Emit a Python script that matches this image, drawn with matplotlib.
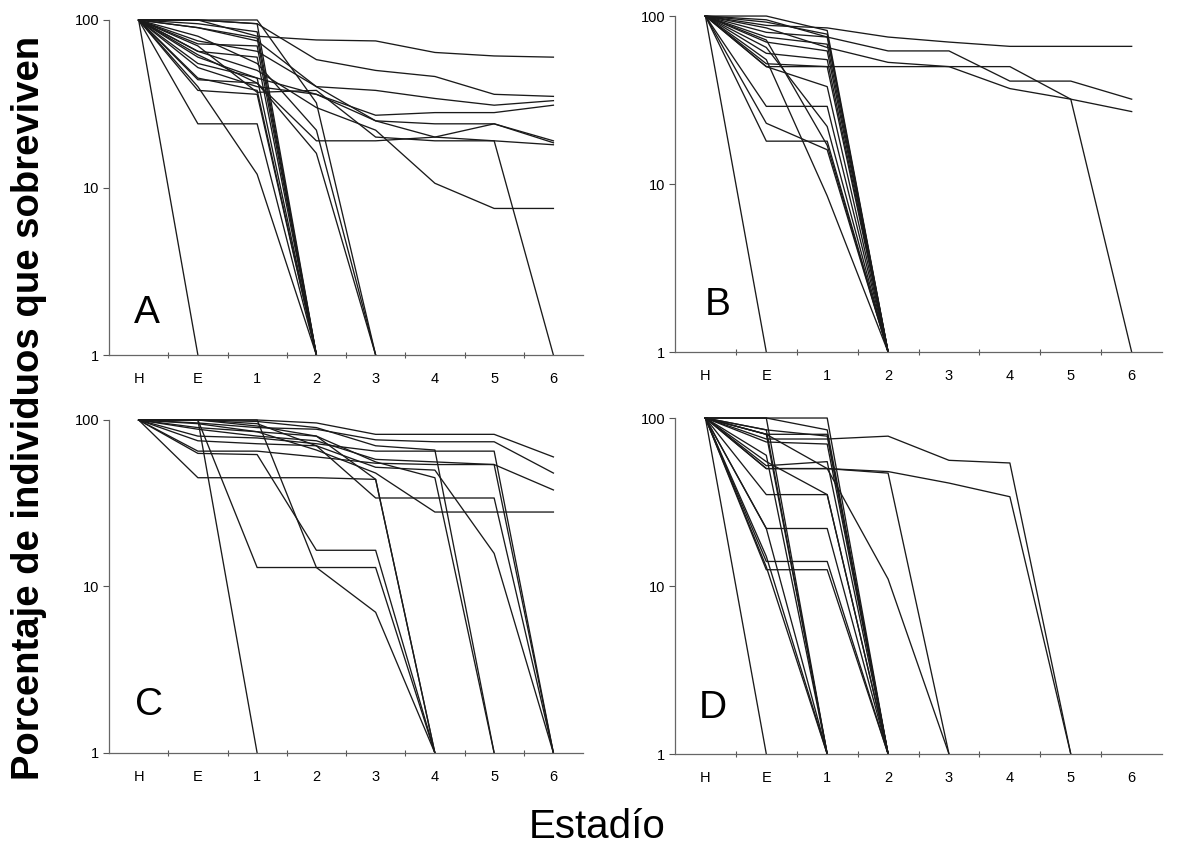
import numpy as np
import matplotlib
matplotlib.use("Agg")
import matplotlib.pyplot as plt
from matplotlib.ticker import FixedLocator, NullLocator, FixedFormatter

plt.rcParams['font.family'] = ['Liberation Sans', 'DejaVu Sans']

# stages of development (x categories)
estadios = ['H', 'E', '1', '2', '3', '4', '5', '6']

# % survivors per cohort, one list per cohort, cut where the cohort dies out (plotted as 1)
cohortes_a = [
    [100, 1],
    [100, 24, 24, 1],
    [100, 40, 12, 1],
    [100, 100, 95, 1],
    [100, 95, 85, 1],
    [100, 90, 78, 1],
    [100, 72, 70, 1],
    [100, 65, 60, 1],
    [100, 55, 45, 1],
    [100, 45, 38, 1],
    [100, 38, 36, 1],
    [100, 100, 100, 32, 1],
    [100, 80, 55, 22, 1],
    [100, 62, 42, 16, 1],
    [100, 100, 80, 76, 75, 64, 61, 60],
    [100, 100, 95, 58, 50, 46, 36, 35],
    [100, 75, 65, 40, 38, 34, 31, 33],
    [100, 60, 45, 36, 27, 28, 28, 31],
    [100, 90, 75, 40, 25, 24, 24, 19],
    [100, 52, 40, 36, 25, 20, 24, 18.5],
    [100, 44, 42, 19, 19, 20, 19, 18],
    [100, 65, 50, 30, 22, 10.6, 7.5, 7.5],
    [100, 70, 37, 38, 20, 19, 19, 1],
]

cohortes_b = [
    [100, 1],
    [100, 88, 85, 75, 70, 66, 66, 66],
    [100, 95, 75, 62, 62, 41, 41, 32],
    [100, 85, 65, 53, 50, 37, 32, 27],
    [100, 52, 50, 50, 50, 50, 32, 1],
    [100, 100, 82, 1],
    [100, 92, 78, 1],
    [100, 80, 75, 1],
    [100, 75, 68, 1],
    [100, 70, 62, 1],
    [100, 60, 55, 1],
    [100, 50, 50, 1],
    [100, 50, 38, 1],
    [100, 65, 22, 1],
    [100, 29, 29, 1],
    [100, 23, 16, 1],
    [100, 18, 18, 1],
    [100, 55, 8.5, 1],
    [100, 72, 17, 1],
]

cohortes_c = [
    [100, 100, 1],
    [100, 100, 100, 96, 82, 82, 82, 60],
    [100, 96, 90, 88, 76, 74, 74, 48],
    [100, 88, 80, 75, 58, 56, 54, 38],
    [100, 90, 85, 66, 48, 28, 28, 28],
    [100, 45, 45, 45, 44, 1],
    [100, 100, 13, 13, 13, 1],
    [100, 63, 62, 16.5, 16.5, 1],
    [100, 100, 100, 13, 7, 1],
    [100, 75, 72, 70, 34, 34, 34, 1],
    [100, 80, 78, 72, 65, 65, 65, 1],
    [100, 65, 65, 60, 55, 54, 54, 1],
    [100, 100, 95, 70, 52, 50, 15.8, 1],
    [100, 100, 98, 90, 70, 66, 1],
    [100, 95, 85, 80, 56, 45, 1],
    [100, 100, 92, 80, 44, 1],
]

cohortes_d = [
    [100, 1],
    [100, 22, 1],
    [100, 15, 1],
    [100, 13, 1],
    [100, 100, 1],
    [100, 85, 1],
    [100, 80, 1],
    [100, 60, 1],
    [100, 100, 100, 1],
    [100, 100, 85, 1],
    [100, 80, 80, 1],
    [100, 72, 70, 1],
    [100, 52, 55, 1],
    [100, 55, 35, 1],
    [100, 35, 35, 1],
    [100, 14, 14, 1],
    [100, 12.5, 12.5, 1],
    [100, 22, 22, 1],
    [100, 85, 78, 1],
    [100, 75, 75, 78, 56, 54, 1],
    [100, 50, 50, 48, 41, 34, 1],
    [100, 50, 50, 47, 1],
    [100, 80, 50, 11, 1],
]

letras = ['A', 'B', 'C', 'D']
paneles = [cohortes_a, cohortes_b, cohortes_c, cohortes_d]

# axes boxes in figure fraction, letter position in axes fraction
cajas = [
    [0.0913, 0.5862, 0.397, 0.3905],
    [0.5653, 0.5897, 0.408, 0.3916],
    [0.0913, 0.1224, 0.397, 0.3881],
    [0.5653, 0.1212, 0.408, 0.3916],
]
pos_letra = [(0.053, 0.096), (0.062, 0.11), (0.055, 0.114), (0.049, 0.107)]

fig = plt.figure(figsize=(11.94, 8.58), dpi=100)

for caja, cohortes, letra, (lx, ly) in zip(cajas, paneles, letras, pos_letra):
    ax = fig.add_axes(caja)
    for c in cohortes:
        x = np.arange(len(c))
        ax.plot(x, c, color='#1a1a1a', lw=0.95, clip_on=False)
    ax.set_yscale('log')
    ax.set_ylim(1, 100)
    ax.set_xlim(-0.5, 7.5)
    ax.yaxis.set_major_locator(FixedLocator([1, 10, 100]))
    ax.yaxis.set_major_formatter(FixedFormatter(['1', '10', '100']))
    ax.yaxis.set_minor_locator(NullLocator())
    ax.set_xticks(np.arange(len(estadios)))
    ax.set_xticklabels(estadios)
    ax.set_xticks(np.arange(0.5, 7.5, 1), minor=True)
    ax.tick_params(axis='x', which='major', length=0, pad=12, labelsize=10.5)
    ax.tick_params(axis='x', which='minor', length=5, width=0.8, direction='inout', color='#555555')
    ax.tick_params(axis='y', which='major', length=4, width=0.8, labelsize=10.5, pad=3, color='#555555')
    for s in ['top', 'right']:
        ax.spines[s].set_visible(False)
    for s in ['left', 'bottom']:
        ax.spines[s].set_color('#666666')
        ax.spines[s].set_linewidth(0.9)
    ax.text(lx, ly, letra, transform=ax.transAxes, fontsize=28, va='baseline', ha='left')

fig.text(0.024, 0.525, 'Porcentaje de individuos que sobreviven', rotation=90,
         ha='center', va='center', fontsize=27.5, fontweight='bold')
fig.text(0.5, 0.036, 'Estadío', ha='center', va='center', fontsize=29)

fig.savefig('out.png', dpi=100)
